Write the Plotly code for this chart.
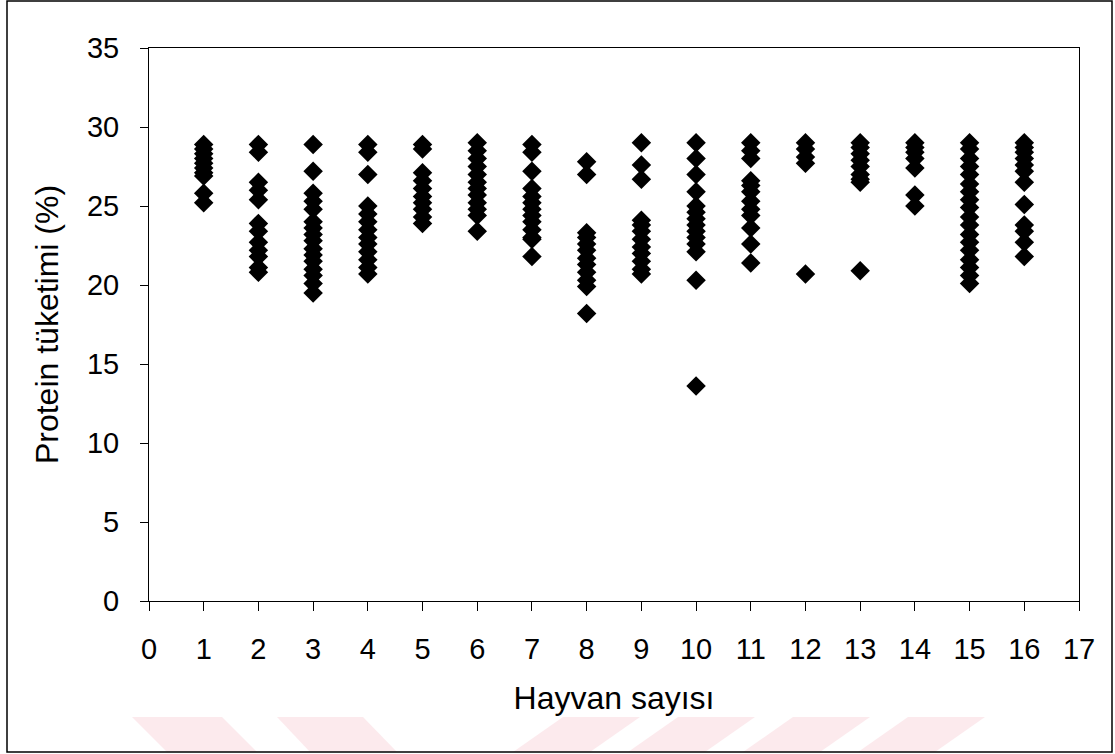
import plotly.graph_objects as go

# Protein tüketimi (%) değerleri, her hayvan sayısı grubu için
h1 = [28.9, 28.6, 28.3, 28.0, 27.7, 27.4, 27.1, 26.9, 25.8, 25.2]
h2 = [28.9, 28.4, 26.5, 26.0, 25.4, 23.9, 23.4, 22.7, 22.2, 21.8, 21.1, 20.8]
h3 = [28.9, 27.2, 25.8, 25.3, 24.8, 24.0, 23.6, 23.2, 22.8, 22.3, 21.9, 21.5, 21.0, 20.6, 20.1, 19.5]
h4 = [28.9, 28.4, 27.0, 25.0, 24.5, 24.0, 23.5, 23.0, 22.6, 22.1, 21.6, 21.1, 20.7]
h5 = [28.9, 28.6, 27.1, 26.6, 26.1, 25.6, 25.2, 24.8, 24.3, 23.9]
h6 = [29.0, 28.5, 28.0, 27.5, 27.0, 26.5, 26.1, 25.7, 25.2, 24.8, 24.4, 23.4]
h7 = [28.9, 28.4, 27.2, 26.1, 25.6, 25.2, 24.8, 24.4, 24.0, 23.5, 23.0, 22.9, 21.8]
h8 = [27.8, 27.0, 23.3, 23.0, 22.6, 22.2, 21.7, 21.3, 20.8, 20.3, 19.9, 18.2]
h9 = [29.0, 27.6, 26.7, 24.1, 23.8, 23.4, 22.9, 22.4, 22.0, 21.5, 21.0, 20.7]
h10 = [29.0, 28.0, 27.0, 25.9, 25.0, 24.6, 24.2, 23.8, 23.4, 23.0, 22.6, 22.1, 20.3, 13.6]
h11 = [29.0, 28.5, 28.0, 26.6, 26.3, 25.9, 25.3, 24.8, 24.4, 23.6, 22.6, 21.4]
h12 = [29.0, 28.6, 28.1, 27.7, 20.7]
h13 = [29.0, 28.7, 28.3, 27.9, 27.5, 27.0, 26.7, 26.5, 20.9]
h14 = [29.0, 28.7, 28.4, 28.0, 27.4, 25.7, 25.0]
h15 = [29.0, 28.6, 28.0, 27.5, 27.0, 26.4, 25.9, 25.4, 24.9, 24.3, 23.8, 23.2,
       22.7, 22.2, 21.6, 21.1, 20.6, 20.1]
h16 = [29.0, 28.7, 28.4, 28.0, 27.6, 27.2, 26.5, 25.1, 23.8, 23.4, 22.7, 21.8]

groups = [h1, h2, h3, h4, h5, h6, h7, h8, h9, h10, h11, h12, h13, h14, h15, h16]
x_ticks = list(range(0, 18))
y_ticks = list(range(0, 36, 5))

xs, ys = [], []
for i, g in enumerate(groups, start=1):
    xs.extend([i] * len(g))
    ys.extend(g)

fig = go.Figure()
fig.add_trace(go.Scatter(
    x=xs, y=ys, mode="markers",
    marker=dict(symbol="diamond", size=15, color="black",
                line=dict(width=0)),
    showlegend=False, hoverinfo="x+y",
))

# plot area in pixels: x 149..1079, y 48..601
L, R, T, B = 149, 1079, 48, 601
W, H = R - L, B - T


def px(xp):
    return (xp - L) / W


def py(yp):
    return (B - yp) / H


shapes = []
# faint watermark stripes at the bottom (decoration)
pink = "rgba(245,170,185,0.25)"
ytop, ybot = 717, 752
back_stripes = [(132, 222, 167, 257), (277, 363, 310, 397)]  # top x0,x1 / bottom x0,x1
fwd_stripes = [(563, 640, 513, 590), (678, 755, 628, 705),
               (793, 870, 743, 820), (908, 985, 858, 935)]
for tx0, tx1, bx0, bx1 in back_stripes + fwd_stripes:
    path = (f"M {px(tx0)},{py(ytop)} L {px(tx1)},{py(ytop)} "
            f"L {px(bx1)},{py(ybot)} L {px(bx0)},{py(ybot)} Z")
    shapes.append(dict(type="path", xref="paper", yref="paper", path=path,
                       fillcolor=pink, line=dict(width=0), layer="below"))

# outer frame
shapes.append(dict(type="rect", xref="paper", yref="paper",
                   x0=px(7), x1=px(1112), y0=py(752), y1=py(1),
                   line=dict(color="black", width=1.5), fillcolor="rgba(0,0,0,0)"))

fig.update_layout(
    width=1115, height=754,
    margin=dict(l=L, r=1115 - R, t=T, b=754 - B),
    paper_bgcolor="white", plot_bgcolor="white",
    font=dict(family="Liberation Sans, Arial, sans-serif", color="black"),
    shapes=shapes,
    xaxis=dict(
        range=[0, 17], tickmode="array", tickvals=x_ticks,
        ticktext=[str(v) for v in x_ticks],
        showgrid=False, zeroline=False,
        showline=True, linecolor="black", linewidth=1, mirror=True,
        ticks="outside", ticklen=9, tickcolor="black",
        tickfont=dict(size=29), ticklabelstandoff=13,
        title=dict(text="Hayvan sayısı", font=dict(size=32), standoff=22),
    ),
    yaxis=dict(
        range=[0, 35], tickmode="array", tickvals=y_ticks,
        showgrid=False, zeroline=False,
        showline=True, linecolor="black", linewidth=1, mirror=True,
        ticks="outside", ticklen=8, tickcolor="black",
        tickfont=dict(size=29), ticklabelstandoff=15,
        title=dict(text="Protein tüketimi (%)", font=dict(size=32), standoff=18),
    ),
)

fig.write_html("out.html")
